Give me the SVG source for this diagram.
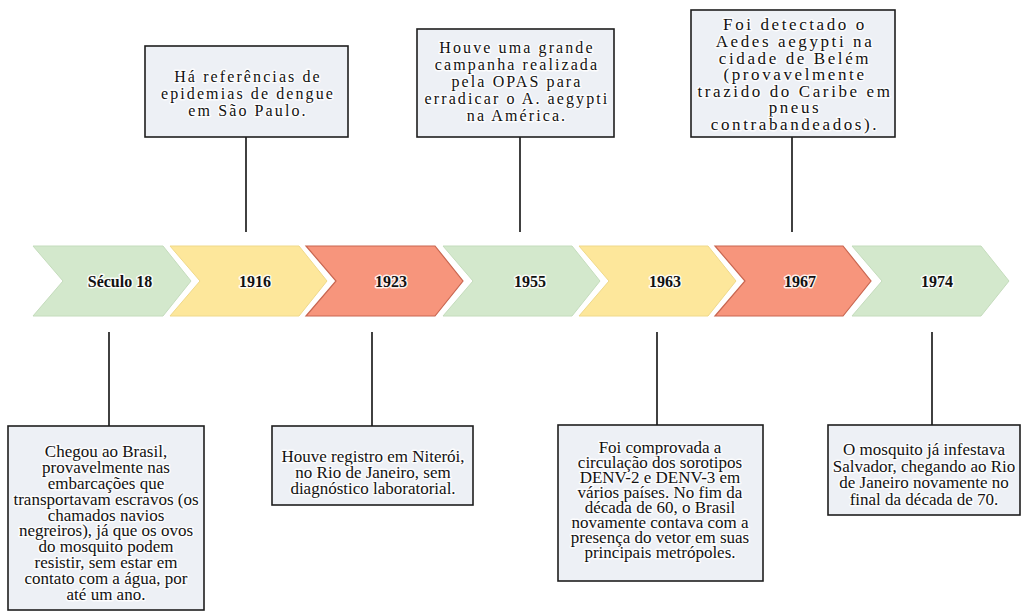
<svg xmlns="http://www.w3.org/2000/svg" width="1024" height="611" viewBox="0 0 1024 611">
<style>
.box{fill:#edf0f5;stroke:#1e1e1e;stroke-width:1.6}
.tt{font-family:"Liberation Serif","Times New Roman",serif;font-size:16px;letter-spacing:2.1px;fill:#111;text-anchor:middle;stroke:#fff;stroke-width:3;stroke-opacity:0.85;paint-order:stroke;stroke-linejoin:round}
.tt2{font-family:"Liberation Serif","Times New Roman",serif;font-size:17px;letter-spacing:2.6px;fill:#111;text-anchor:middle;stroke:#fff;stroke-width:3;stroke-opacity:0.85;paint-order:stroke;stroke-linejoin:round}
.bt{font-family:"Liberation Serif","Times New Roman",serif;font-size:17px;fill:#111;text-anchor:middle;stroke:#fff;stroke-width:3;stroke-opacity:0.85;paint-order:stroke;stroke-linejoin:round}
.lbl{font-family:"Liberation Serif","Times New Roman",serif;font-size:16px;font-weight:bold;fill:#111;text-anchor:middle;stroke:#fff;stroke-width:3;stroke-opacity:0.85;paint-order:stroke;stroke-linejoin:round}
.g{fill:#d3e8cc;stroke:#c4dcbc;stroke-width:1}
.y{fill:#fde79b;stroke:#efd98a;stroke-width:1}
.r{fill:#f7957c;stroke:#c96650;stroke-width:1.2}
.conn line{stroke:#111;stroke-width:1.6}
</style>
<rect width="1024" height="611" fill="#fff"/>
<g id="chevrons">
<g id="c1"><path class="g" d="M33,246 L163,246 L191,281 L163,316 L33,316 L63,281 Z"/><text class="lbl" x="120" y="287">Século 18</text></g>
<g id="c2"><path class="y" d="M170,246 L299,246 L327,281 L299,316 L170,316 L200,281 Z"/><text class="lbl" x="255" y="287">1916</text></g>
<g id="c3"><path class="r" d="M306,246 L435,246 L463,281 L435,316 L306,316 L336,281 Z"/><text class="lbl" x="391" y="287">1923</text></g>
<g id="c4"><path class="g" d="M443,246 L572,246 L600,281 L572,316 L443,316 L473,281 Z"/><text class="lbl" x="530" y="287">1955</text></g>
<g id="c5"><path class="y" d="M579,246 L708,246 L736,281 L708,316 L579,316 L609,281 Z"/><text class="lbl" x="665" y="287">1963</text></g>
<g id="c6"><path class="r" d="M715,246 L843,246 L871,281 L843,316 L715,316 L745,281 Z"/><text class="lbl" x="800" y="287">1967</text></g>
<g id="c7"><path class="g" d="M852,246 L981,246 L1009,281 L981,316 L852,316 L882,281 Z"/><text class="lbl" x="937" y="287">1974</text></g>
</g>
<g class="conn" id="connectors">
<line x1="246" y1="137" x2="246" y2="232"/>
<line x1="520" y1="137" x2="520" y2="232"/>
<line x1="792" y1="137" x2="792" y2="232"/>
<line x1="109" y1="332" x2="109" y2="426"/>
<line x1="372" y1="332" x2="372" y2="426"/>
<line x1="657" y1="332" x2="657" y2="425"/>
<line x1="932" y1="332" x2="932" y2="425"/>
</g>
<g id="t1916">
<rect class="box" x="145" y="46" width="203" height="91"/>
<text class="tt" x="248" y="82">Há referências de</text>
<text class="tt" x="248" y="99">epidemias de dengue</text>
<text class="tt" x="248" y="116">em São Paulo.</text>
</g>
<g id="t1955">
<rect class="box" x="417" y="29" width="197" height="108"/>
<text class="tt" x="517" y="53">Houve uma grande</text>
<text class="tt" x="517" y="70">campanha realizada</text>
<text class="tt" x="517" y="87">pela OPAS para</text>
<text class="tt" x="517" y="104">erradicar o A. aegypti</text>
<text class="tt" x="517" y="121">na América.</text>
</g>
<g id="t1967">
<rect class="box" x="691" y="10" width="204" height="127"/>
<text class="tt2" x="795" y="30">Foi detectado o</text>
<text class="tt2" x="795" y="47">Aedes aegypti na</text>
<text class="tt2" x="795" y="64">cidade de Belém</text>
<text class="tt2" x="795" y="80">(provavelmente</text>
<text class="tt2" x="795" y="97">trazido do Caribe em</text>
<text class="tt2" x="795" y="113">pneus</text>
<text class="tt2" x="795" y="130">contrabandeados).</text>
</g>
<g id="bSeculo">
<rect class="box" x="8" y="426" width="196" height="184"/>
<text class="bt" x="106" y="457">Chegou ao Brasil,</text>
<text class="bt" x="106" y="473">provavelmente nas</text>
<text class="bt" x="106" y="489">embarcações que</text>
<text class="bt" x="106" y="505">transportavam escravos (os</text>
<text class="bt" x="106" y="521">chamados navios</text>
<text class="bt" x="106" y="536">negreiros), já que os ovos</text>
<text class="bt" x="106" y="552">do mosquito podem</text>
<text class="bt" x="106" y="568">resistir, sem estar em</text>
<text class="bt" x="106" y="584">contato com a água, por</text>
<text class="bt" x="106" y="600">até um ano.</text>
</g>
<g id="b1923">
<rect class="box" x="272" y="426" width="201" height="79"/>
<text class="bt" x="373" y="462">Houve registro em Niterói,</text>
<text class="bt" x="373" y="478">no Rio de Janeiro, sem</text>
<text class="bt" x="373" y="494">diagnóstico laboratorial.</text>
</g>
<g id="b1963">
<rect class="box" x="558" y="425" width="205" height="156"/>
<text class="bt" x="660" y="453">Foi comprovada a</text>
<text class="bt" x="660" y="468">circulação dos sorotipos</text>
<text class="bt" x="660" y="483">DENV-2 e DENV-3 em</text>
<text class="bt" x="660" y="498">vários países. No fim da</text>
<text class="bt" x="660" y="513">década de 60, o Brasil</text>
<text class="bt" x="660" y="528">novamente contava com a</text>
<text class="bt" x="660" y="543">presença do vetor em suas</text>
<text class="bt" x="660" y="558">principais metrópoles.</text>
</g>
<g id="b1974">
<rect class="box" x="828" y="425" width="192" height="90"/>
<text class="bt" x="924" y="455">O mosquito já infestava</text>
<text class="bt" x="924" y="472">Salvador, chegando ao Rio</text>
<text class="bt" x="924" y="488">de Janeiro novamente no</text>
<text class="bt" x="924" y="505">final da década de 70.</text>
</g>
</svg>
